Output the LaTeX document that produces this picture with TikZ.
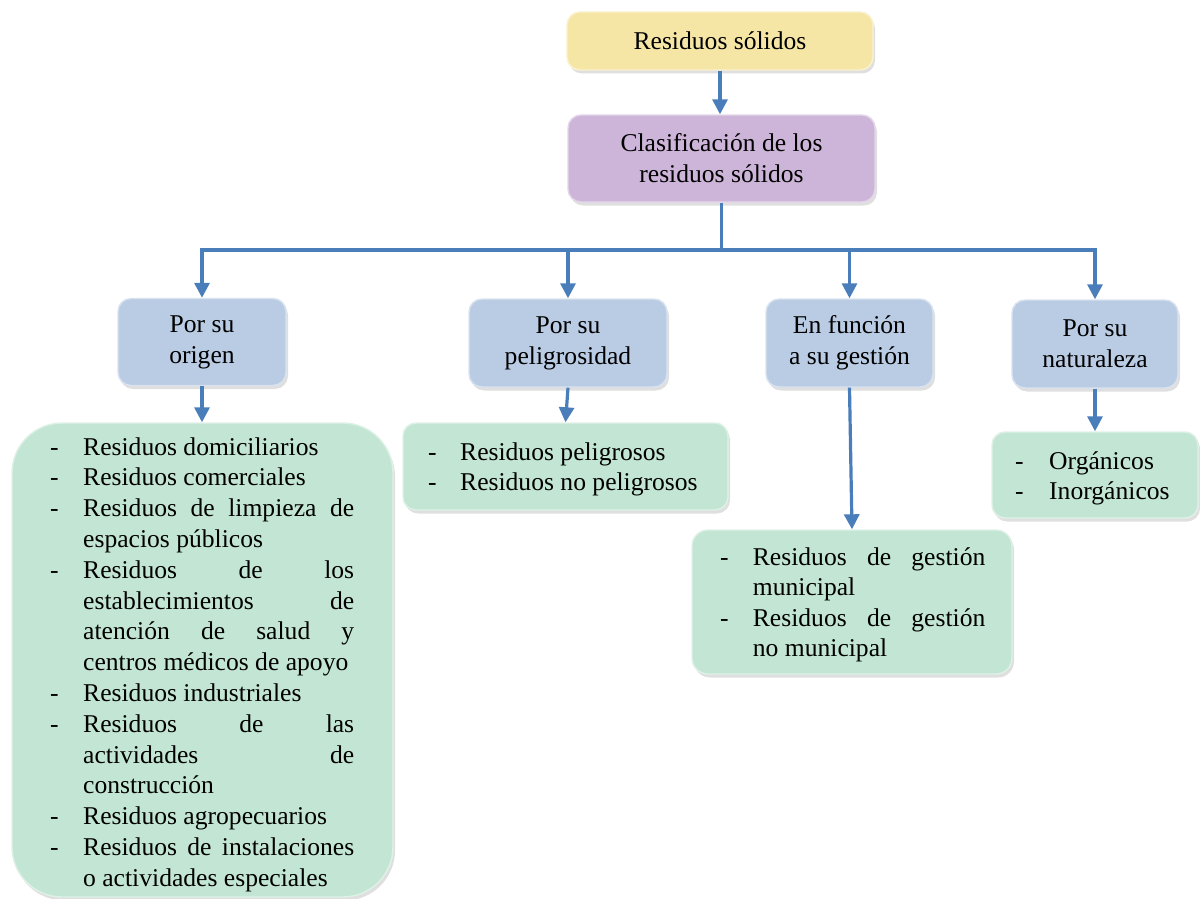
\documentclass[tikz,border=0pt]{standalone}
\usepackage{fontspec}
\setmainfont{Liberation Serif}
\usetikzlibrary{arrows.meta,shadows}
\definecolor{ablue}{HTML}{4A7EBB}
\definecolor{bluebox}{HTML}{B9CCE4}
\definecolor{greenbox}{HTML}{C3E6D4}
\definecolor{yellowbox}{HTML}{F5E6A6}
\definecolor{purplebox}{HTML}{CDB4D9}
\newcommand\fs{\fontsize{25.6}{31}\selectfont}
\newlength\dw \newlength\tw
\newcommand\bl[1]{\hbox{\hbox to\dw{-\hfil}\hbox to\tw{#1\hfil}}}
\newcommand\bj[1]{\hbox{\hbox to\dw{-\hfil}\hbox to\tw{#1}}}
\newcommand\cl[1]{\hbox{\hbox to\dw{\hfil}\hbox to\tw{#1\hfil}}}
\newcommand\cj[1]{\hbox{\hbox to\dw{\hfil}\hbox to\tw{#1}}}
\hbadness=10000
\begin{document}
\begin{tikzpicture}[x=1pt,y=-1pt,
  shd/.style={drop shadow={opacity=0.25,shadow xshift=2pt,shadow yshift=-3.5pt}},
  bx/.style={rounded corners=13pt, line width=1.4pt, align=center, font=\fs, inner sep=0pt, shd},
  bluebx/.style={bx, fill=bluebox, draw=bluebox!55!white},
  greenbx/.style={bx, fill=greenbox, draw=greenbox!55!white},
  yellowbx/.style={bx, fill=yellowbox, draw=yellowbox!55!white},
  purplebx/.style={bx, fill=purplebox, draw=purplebox!55!white},
  txt/.style={anchor=base west, inner sep=0pt, font=\fs},
  lin/.style={draw=ablue, line width=3.2pt},
  arr/.style={lin, -{Triangle[width=15pt,length=15pt]}}]
\useasboundingbox (0,0) rectangle (1200,899);

% top boxes
\node[yellowbx, minimum width=306pt, minimum height=58pt] (top) at (720,41) {Residuos sólidos};
\node[purplebx, minimum width=307pt, minimum height=87pt] (clas) at (721.5,158.5) {Clasificación de los\\residuos sólidos};

% category boxes
\node[bluebx, minimum width=168pt, minimum height=87pt] (orig) at (202,342) {Por su\\origen};
\node[bluebx, minimum width=198pt, minimum height=88pt] (pel) at (568,343) {Por su\\peligrosidad};
\node[bluebx, minimum width=167pt, minimum height=88pt] (ges) at (849.5,343) {En función\\a su gestión};
\node[bluebx, minimum width=166pt, minimum height=88pt] (nat) at (1095,344) {Por su\\naturaleza};

% green boxes
\node[greenbx, rounded corners=50pt, minimum width=381pt, minimum height=474pt] (g1) at (202.5,660) {};
\node[greenbx, minimum width=325pt, minimum height=87pt] (g2) at (565.5,466.5) {};
\node[greenbx, rounded corners=16pt, minimum width=320pt, minimum height=144pt] (g3) at (852,602) {};
\node[greenbx, minimum width=206pt, minimum height=86pt] (g4) at (1095,475) {};

% texts in green boxes
\node[txt] (t1) at (50,455) {\setlength\dw{33pt}\setlength\tw{271pt}\vtop{\baselineskip=30.8pt
  \bl{Residuos domiciliarios}
  \bl{Residuos comerciales}
  \bj{Residuos de limpieza de}
  \cl{espacios públicos}
  \bj{Residuos de los}
  \cj{establecimientos de}
  \cj{atención de salud y}
  \cl{centros médicos de apoyo}
  \bl{Residuos industriales}
  \bj{Residuos de las}
  \cj{actividades de}
  \cl{construcción}
  \bl{Residuos agropecuarios}
  \bj{Residuos de instalaciones}
  \cl{o actividades especiales}}};
\node[txt] (t2) at (428,460) {\setlength\dw{32pt}\setlength\tw{260pt}\vtop{\baselineskip=30.5pt
  \bl{Residuos peligrosos}
  \bl{Residuos no peligrosos}}};
\node[txt] (t3) at (720,565) {\setlength\dw{32.7pt}\setlength\tw{232.5pt}\vtop{\baselineskip=30.6pt
  \bj{Residuos de gestión}
  \cl{municipal}
  \bj{Residuos de gestión}
  \cl{no municipal}}};
\node[txt] (t4) at (1015,469) {\setlength\dw{34pt}\setlength\tw{140pt}\vtop{\baselineskip=30pt
  \bl{Orgánicos}
  \bl{Inorgánicos}}};

% connectors
\coordinate (hub) at (721.5,250);
\draw[arr] (top.south) -- (top.south |- clas.north);
\draw[lin] (clas.south) -- (hub);
\draw[arr] (hub) -| (orig.north);
\draw[arr] (hub) -| (pel.north);
\draw[arr] (hub) -| (ges.north);
\draw[arr] (hub) -| (nat.north);
\draw[arr] (orig.south) -- (orig.south |- g1.north);
\draw[arr] (pel.south) -- (g2.north);
\draw[arr] (ges.south) -- (g3.north);
\draw[arr] (nat.south) -- (g4.north);
\end{tikzpicture}
\end{document}
